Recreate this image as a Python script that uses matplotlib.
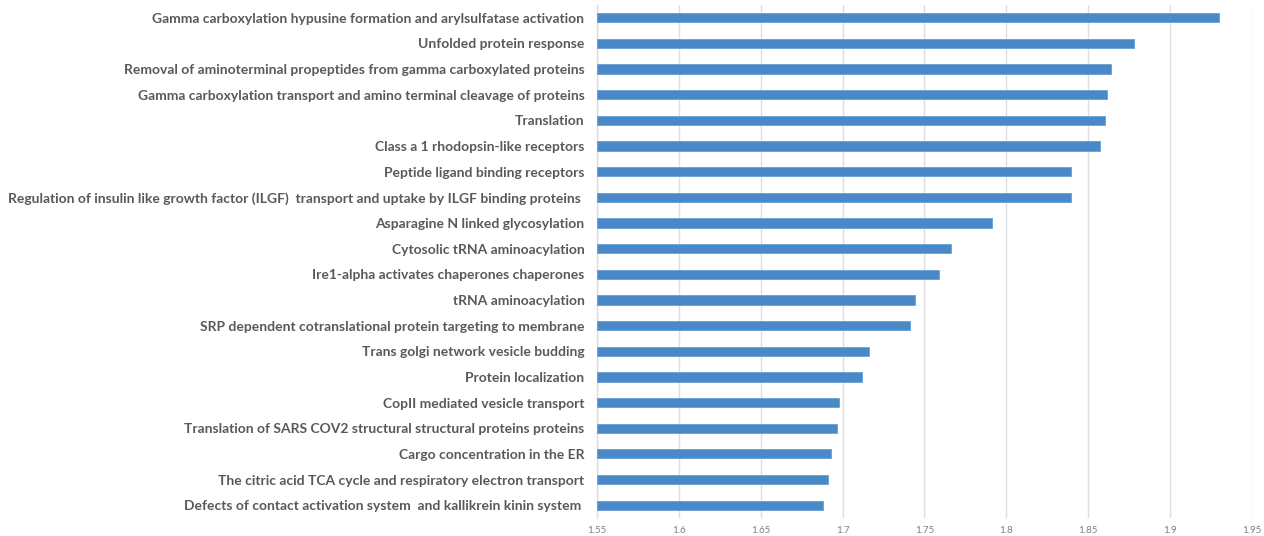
import matplotlib
matplotlib.use("Agg")
import matplotlib.pyplot as plt

# pathways, top to bottom as shown in the chart
pathways = [
    "Gamma carboxylation hypusine formation and arylsulfatase activation",
    "Unfolded protein response",
    "Removal of aminoterminal propeptides from gamma carboxylated proteins",
    "Gamma carboxylation transport and amino terminal cleavage of proteins",
    "Translation",
    "Class a 1 rhodopsin-like receptors",
    "Peptide ligand binding receptors",
    "Regulation of insulin like growth factor (ILGF)  transport and uptake by ILGF binding proteins ",
    "Asparagine N linked glycosylation",
    "Cytosolic tRNA aminoacylation",
    "Ire1-alpha activates chaperones chaperones",
    "tRNA aminoacylation",
    "SRP dependent cotranslational protein targeting to membrane",
    "Trans golgi network vesicle budding",
    "Protein localization",
    "CopII mediated vesicle transport",
    "Translation of SARS COV2 structural structural proteins proteins",
    "Cargo concentration in the ER",
    "The citric acid TCA cycle and respiratory electron transport",
    "Defects of contact activation system  and kallikrein kinin system ",
]
scores = [1.930, 1.878, 1.864, 1.8615, 1.860, 1.857, 1.8395, 1.8395, 1.791, 1.766,
          1.759, 1.744, 1.741, 1.716, 1.712, 1.698, 1.6966, 1.693, 1.691, 1.688]
xticks = [1.55, 1.6, 1.65, 1.7, 1.75, 1.8, 1.85, 1.9, 1.95]
xtick_labels = ["1.55", "1.6", "1.65", "1.7", "1.75", "1.8", "1.85", "1.9", "1.95"]

plt.rcParams["font.family"] = ["Lato", "DejaVu Sans"]

fig = plt.figure(figsize=(12.64, 5.36), dpi=100)
ax = fig.add_axes([0.4723, 0.0336, 0.5182, 0.9571])

ypos = list(range(len(pathways)))
ax.barh(ypos, [s - 1.55 for s in scores], left=1.55, height=0.36,
        color="#4a89c8", edgecolor="#6a9fd6", linewidth=0.6, zorder=3)

ax.set_xlim(1.55, 1.95)
ax.set_ylim(len(pathways) - 0.5, -0.5)
ax.set_xticks(xticks)
ax.set_xticklabels(xtick_labels, fontsize=7, color="#7f7f7f")
ax.set_yticks(ypos)
ax.set_yticklabels(pathways, fontsize=10, fontweight="bold", color="#595959")

ax.grid(axis="x", color="#dedede", linewidth=1.0, zorder=0)
for side in ["top", "right", "bottom"]:
    ax.spines[side].set_visible(False)
ax.spines["left"].set_color("#dedede")
ax.spines["left"].set_linewidth(1.0)
ax.tick_params(axis="both", length=0)
ax.tick_params(axis="y", pad=9)
ax.tick_params(axis="x", pad=6)

fig.savefig("out.png", dpi=100)
